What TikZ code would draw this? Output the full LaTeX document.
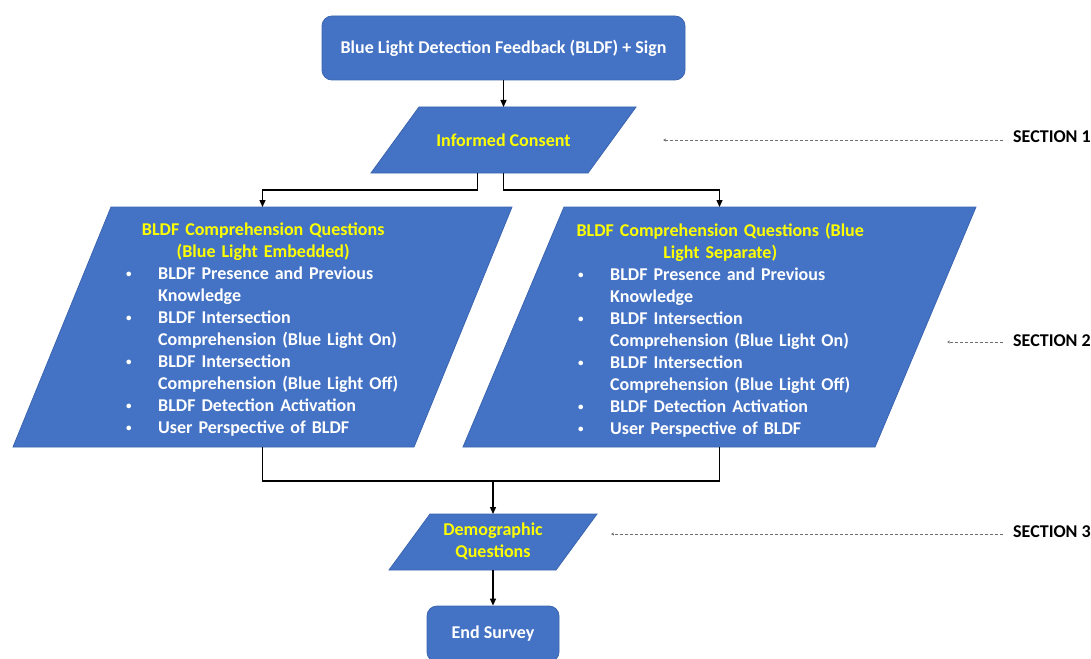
\documentclass[tikz,border=0pt]{standalone}
\usepackage{fontspec}
\setmainfont{Carlito}
\usetikzlibrary{arrows.meta,calc}
\definecolor{boxblue}{HTML}{4472C4}
\definecolor{boxedge}{HTML}{3B65B0}
\definecolor{ylw}{HTML}{FFFF00}
\definecolor{dashgray}{HTML}{6F6F6F}
\newcommand\itm[1]{{\raggedright\hangindent=33pt\hangafter=1\noindent\makebox[33pt][l]{\hspace{1pt}\raisebox{1.5pt}{\fontsize{11}{11}\selectfont\textbullet}}#1\par}}
\newcommand\drawpara[2]{\filldraw[para] ([xshift=#2]#1.north west) -- (#1.north east) -- ([xshift=-#2]#1.south east) -- (#1.south west) -- cycle;}
\tikzset{
 base/.style={font=\bfseries\fontsize{18}{22}\selectfont},
 rbox/.style={base, fill=boxblue, draw=boxedge, line width=0.8pt, rounded corners=10pt, text=white, align=center},
 frame/.style={draw=none, inner sep=0, outer sep=0},
 para/.style={fill=boxblue, draw=boxedge, line width=0.8pt},
 ptext/.style={base, text=ylw, align=center, inner sep=0},
 btext/.style={base, text=white, inner sep=0},
 arr/.style={draw=black, line width=1.3pt, -{Triangle[length=7pt,width=6pt]}},
 conn/.style={draw=black, line width=1.3pt},
 secl/.style={font=\bfseries\fontsize{18}{20}\selectfont, text=black, anchor=base west, inner sep=0},
 secarr/.style={draw=dashgray, line width=0.9pt, dash pattern=on 3pt off 2pt, -{Stealth[length=3pt,width=3pt]}},
}
\begin{document}
\begin{tikzpicture}[x=1pt,y=-1pt]
\useasboundingbox (0,0) rectangle (1091,658);
% frames
\node[frame, minimum width=265, minimum height=66] (ic) at (503.5,140) {};
\node[frame, minimum width=499, minimum height=240] (L) at (262.5,327) {};
\node[frame, minimum width=513, minimum height=240] (R) at (719.5,327) {};
\node[frame, minimum width=208, minimum height=56] (D) at (493,542) {};
% shapes
\node[rbox, minimum width=363, minimum height=64] (top) at (503.5,48) {Blue Light Detection Feedback (BLDF) + Sign};
\drawpara{ic}{48}
\drawpara{L}{98}
\drawpara{R}{101}
\drawpara{D}{41}
\node[rbox, minimum width=132, minimum height=56] (end) at (493,634) {End Survey};
% texts
\node[ptext] (ict) at (ic.center) {Informed Consent};
\node[ptext] (dt) at ([yshift=1]D.center) {Demographic\\Questions};
\node[btext, text width=276pt, anchor=north west] (Lt) at (125,222.5) {%
{\centering\textcolor{ylw}{BLDF Comprehension Questions\\(Blue Light Embedded)}\par}
\itm{BLDF Presence and Previous\newline Knowledge}
\itm{BLDF Intersection\newline Comprehension (Blue Light On)}
\itm{BLDF Intersection\newline Comprehension (Blue Light Off)}
\itm{BLDF Detection Activation}
\itm{User Perspective of BLDF}};
\node[btext, text width=286pt, anchor=north west] (Rt) at (577,222.5) {%
{\centering\textcolor{ylw}{\makebox[\linewidth][c]{BLDF Comprehension Questions (Blue}\\Light Separate)}\par}
\itm{BLDF Presence and Previous\newline Knowledge}
\itm{BLDF Intersection\newline Comprehension (Blue Light On)}
\itm{BLDF Intersection\newline Comprehension (Blue Light Off)}
\itm{BLDF Detection Activation}
\itm{User Perspective of BLDF}};
% connectors
\draw[arr] (top.south) -- (ic.north);
\draw[arr] ([xshift=-26]ic.south) -- ++(0,17) -| (L.north);
\draw[arr] (ic.south) -- ++(0,17) -| (R.north);
\draw[conn] (L.south) -- ++(0,34) coordinate (jn) -| (R.south);
\draw[arr] (D.north |- jn) -- (D.north);
\draw[arr] (D.south) -- (end.north);
% sections
\node[secl] (s1) at (1013,142) {SECTION 1};
\node[secl] (s2) at (1013,346) {SECTION 2};
\node[secl] (s3) at (1013,537) {SECTION 3};
\coordinate (e1) at (663,140);
\coordinate (e2) at (947,342);
\coordinate (e3) at (611,534);
\draw[secarr] (s1.west |- e1) ++(-10,0) -- (e1);
\draw[secarr] (s2.west |- e2) ++(-10,0) -- (e2);
\draw[secarr] (s3.west |- e3) ++(-10,0) -- (e3);
\end{tikzpicture}
\end{document}
